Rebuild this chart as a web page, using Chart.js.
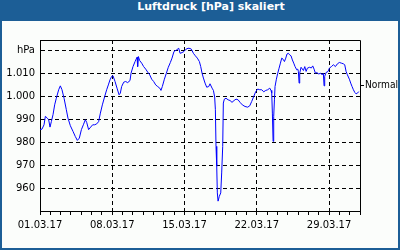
<!DOCTYPE html>
<html>
<head>
<meta charset="utf-8">
<title>Luftdruck</title>
<script src="https://cdn.jsdelivr.net/npm/chart.js@4.4.1/dist/chart.umd.min.js"></script>
<style>
  body { margin: 0; background: #fff; }
  #frame { position: relative; width: 400px; height: 250px; background: #1c5e96; }
  #title {
    position: absolute; left: 22px; top: 0; width: 378px; height: 20px;
    line-height: 20px; text-align: center; color: #fff;
    font: bold 11px "DejaVu Sans", sans-serif;
  }
  #plot { position: absolute; left: 2px; top: 21px; width: 396px; height: 227px; background: #fbfdfb; }
</style>
</head>
<body>
<div id="frame">
  <div id="title">Luftdruck [hPa] skaliert</div>
  <div id="plot"><canvas id="chart" width="396" height="227"></canvas></div>
</div>
<script>
// days since 01.03.17 00:00 and pressure readings
const days = [
  0.00, 0.19, 0.39, 0.52, 0.71, 0.84, 0.97, 1.10, 1.26, 1.42, 1.58, 1.81, 1.97, 2.13, 2.33, 2.55,
  2.71, 2.94, 3.20, 3.42, 3.62, 3.81, 4.01, 4.20, 4.39, 4.52, 4.71, 4.91, 5.10, 5.30, 5.49, 5.68,
  5.85, 6.04, 6.27, 6.46, 6.62, 6.78, 6.94, 7.07, 7.27, 7.46, 7.66, 7.78, 7.91, 8.11, 8.30, 8.49,
  8.72, 8.82, 9.01, 9.21, 9.40, 9.46, 9.53, 9.66, 9.85, 10.04, 10.24, 10.43, 10.63, 10.82, 11.01, 11.21,
  11.40, 11.60, 11.72, 11.85, 12.05, 12.24, 12.43, 12.63, 12.79, 12.98, 13.24, 13.44, 13.57, 13.76, 13.95, 14.15,
  14.34, 14.53, 14.66, 14.86, 15.05, 15.24, 15.44, 15.57, 15.70, 15.83, 15.99, 16.15, 16.35, 16.47, 16.67, 16.80,
  16.92, 16.99, 17.05, 17.12, 17.18, 17.25, 17.37, 17.51, 17.60, 17.70, 17.76, 17.86, 18.02, 18.22, 18.41, 18.60,
  18.80, 18.99, 19.19, 19.38, 19.60, 19.86, 20.12, 20.32, 20.51, 20.71, 20.90, 21.09, 21.29, 21.48, 21.67, 21.87,
  22.06, 22.26, 22.38, 22.45, 22.51, 22.58, 22.64, 22.71, 22.77, 22.90, 23.03, 23.16, 23.29, 23.42, 23.55, 23.68,
  23.81, 23.93, 24.06, 24.19, 24.32, 24.45, 24.58, 24.71, 24.87, 24.97, 25.03, 25.10, 25.16, 25.29, 25.52, 25.65,
  25.78, 25.90, 26.10, 26.29, 26.42, 26.55, 26.68, 26.81, 27.00, 27.20, 27.33, 27.45, 27.52, 27.58, 27.71, 27.91,
  28.03, 28.23, 28.42, 28.62, 28.81, 29.00, 29.20, 29.39, 29.52, 29.65, 29.78, 29.97, 30.10, 30.23, 30.36, 30.50,
  30.62, 30.75, 30.88
];
const pressure = [
  985.5, 985.7, 987.6, 991.3, 990.5, 989.8, 986.6, 989.0, 992.0, 996.3, 999.2, 1002.9, 1004.6, 1002.9, 999.2, 994.2,
  990.5, 987.2, 984.7, 982.5, 980.8, 981.8, 985.5, 987.6, 989.8, 988.7, 985.5, 986.6, 987.6, 987.6, 988.0, 989.0,
  992.7, 996.3, 1000.0, 1002.9, 1005.0, 1007.2, 1008.7, 1009.0, 1006.5, 1003.6, 1000.7, 1001.4, 1004.3, 1006.2, 1006.5, 1006.0,
  1006.9, 1010.1, 1013.0, 1015.2, 1017.1, 1013.0, 1017.4, 1015.6, 1014.5, 1013.0, 1011.9, 1010.6, 1009.4, 1007.5, 1006.5, 1005.0,
  1004.3, 1003.6, 1002.6, 1004.3, 1007.5, 1010.1, 1012.7, 1014.8, 1016.7, 1019.6, 1020.3, 1021.0, 1018.8, 1019.1, 1019.6, 1020.6,
  1021.0, 1020.9, 1020.6, 1018.8, 1017.7, 1016.7, 1015.2, 1013.0, 1010.1, 1008.0, 1005.8, 1004.0, 1004.3, 1005.5, 1003.6, 1002.6,
  999.7, 994.2, 978.2, 969.5, 957.9, 954.3, 956.4, 957.9, 966.6, 978.2, 997.1, 998.8, 999.2, 998.5, 998.2, 997.4,
  998.2, 998.8, 998.5, 997.4, 996.3, 995.6, 995.3, 995.9, 997.8, 1000.0, 1002.1, 1003.2, 1002.9, 1002.9, 1002.0, 1002.6,
  1002.9, 1003.6, 1002.6, 1001.4, 992.7, 980.4, 991.3, 998.5, 1004.3, 1007.5, 1010.1, 1012.3, 1014.5, 1016.7, 1016.2, 1015.2,
  1016.7, 1018.5, 1018.8, 1018.1, 1017.7, 1015.9, 1014.5, 1013.0, 1011.6, 1011.9, 1010.9, 1005.8, 1010.1, 1012.7, 1011.3, 1013.0,
  1010.9, 1012.3, 1012.7, 1012.4, 1013.3, 1011.9, 1010.1, 1010.4, 1009.8, 1010.1, 1009.4, 1010.1, 1004.6, 1008.7, 1010.4, 1010.9,
  1012.3, 1013.0, 1013.8, 1013.0, 1014.2, 1014.8, 1014.5, 1014.2, 1013.8, 1010.9, 1009.4, 1007.5, 1005.8, 1004.3, 1002.9, 1001.7,
  1001.1, 1001.4, 1002.1
];
const yTicks = [950, 960, 970, 980, 990, 1000, 1010, 1020];
const weekLabels = ['01.03.17', '08.03.17', '15.03.17', '22.03.17', '29.03.17'];
const normalValue = 1005;
const normalLabel = 'Normal';

const fontFamily = '"DejaVu Sans", sans-serif';
Chart.defaults.font.family = fontFamily;
Chart.defaults.font.size = 10;
Chart.defaults.color = '#000';

// black frame round the plot plus the "Normal" marker on the right
const framePlugin = {
    id: 'framePlugin',
    afterDraw(chart) {
        const { ctx, chartArea: a, scales } = chart;
        ctx.save();
        ctx.strokeStyle = '#000';
        ctx.lineWidth = 1;
        ctx.beginPath();
        ctx.moveTo(Math.round(a.left) + 0.5, Math.round(a.top) + 0.5);
        ctx.lineTo(Math.round(a.right) + 0.5, Math.round(a.top) + 0.5);
        ctx.lineTo(Math.round(a.right) + 0.5, Math.round(a.bottom) + 0.5);
        ctx.stroke();
        const y = Math.round(scales.y.getPixelForValue(normalValue)) + 0.5;
        ctx.beginPath();
        ctx.moveTo(Math.round(a.right) + 1, y);
        ctx.lineTo(Math.round(a.right) + 4, y);
        ctx.stroke();
        ctx.fillStyle = '#000';
        ctx.font = '10px ' + fontFamily;
        ctx.textBaseline = 'middle';
        ctx.textAlign = 'left';
        ctx.fillText(normalLabel, Math.round(a.right) + 5, y, 33);
        ctx.restore();
    }
};

new Chart(document.getElementById('chart'), {
    type: 'line',
    data: {
        datasets: [{
            data: days.map((d, i) => ({ x: d, y: pressure[i] })),
            borderColor: '#0000ff',
            borderWidth: 1,
            pointRadius: 0,
            tension: 0,
            fill: false
        }]
    },
    options: {
        responsive: false,
        animation: false,
        layout: { padding: { top: 19, right: 38, left: 0, bottom: 0 } },
        plugins: { legend: { display: false }, tooltip: { enabled: false } },
        scales: {
            x: {
                type: 'linear',
                min: 0,
                max: 31,
                afterBuildTicks: s => { s.ticks = Array.from({ length: 32 }, (_, i) => ({ value: i })); },
                afterFit: s => { s.height = 37; },
                ticks: {
                    autoSkip: false,
                    maxRotation: 0,
                    padding: 4,
                    callback: v => (v % 7 === 0 && v / 7 < weekLabels.length) ? weekLabels[v / 7] : ''
                },
                grid: {
                    color: c => (c.tick && c.tick.value % 7 === 0 && c.tick.value > 0 && c.tick.value < 31) ? '#000' : 'rgba(0,0,0,0)',
                    tickColor: '#000',
                    tickLength: 4,
                    drawTicks: true
                },
                border: { display: true, color: '#000', width: 1, dash: [4, 3] }
            },
            y: {
                min: 950,
                max: 1024.6,
                afterBuildTicks: s => { s.ticks = yTicks.map(v => ({ value: v })); },
                afterFit: s => { s.width = 38; },
                ticks: {
                    padding: 5,
                    callback: v => v === 950 ? '' : (v === 1020 ? 'hPa' : v.toLocaleString('de-DE'))
                },
                grid: {
                    color: c => (c.tick && c.tick.value > 950) ? '#000' : 'rgba(0,0,0,0)',
                    drawTicks: false
                },
                border: { display: true, color: '#000', width: 1, dash: [4, 3] }
            }
        }
    },
    plugins: [framePlugin]
});
</script>
</body>
</html>
